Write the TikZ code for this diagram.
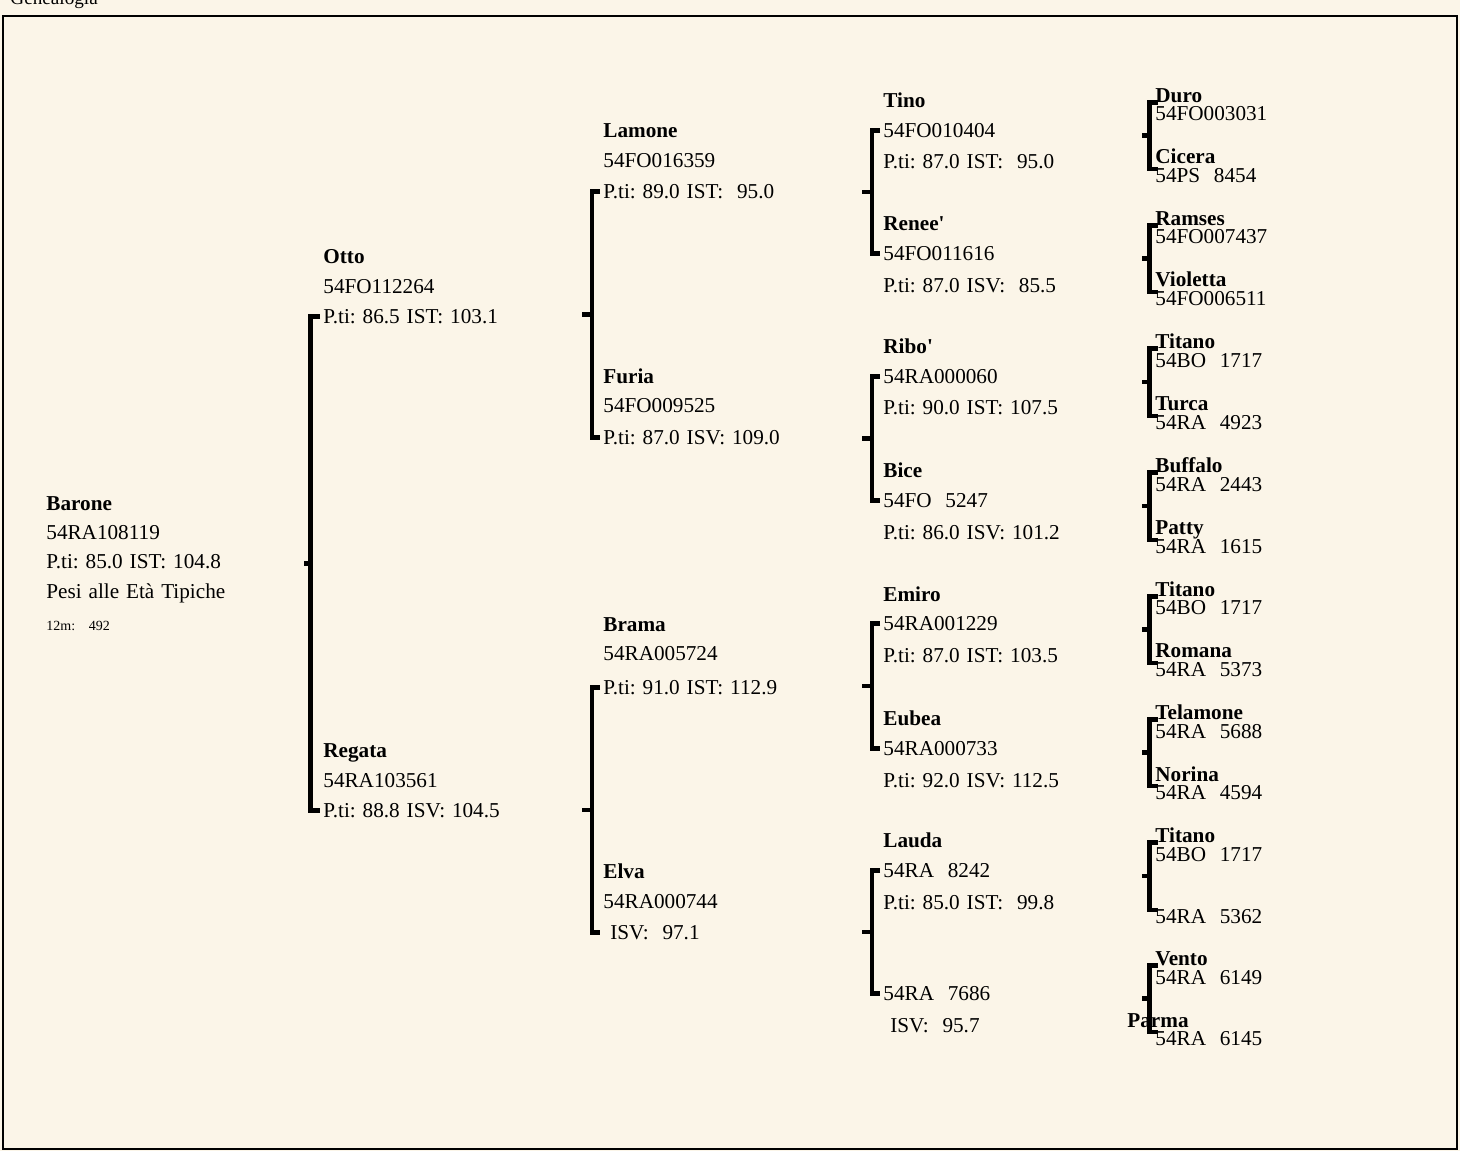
\documentclass[tikz,border=0pt]{standalone}
\usepackage{fontspec}
\setmainfont[WordSpace=1.3]{Liberation Serif}
\usetikzlibrary{calc}
\definecolor{paper}{RGB}{251,245,232}

\begin{document}
\begin{tikzpicture}[x=0.5pt,y=-0.5pt]
  \tikzstyle{every node}=[anchor=base west,inner xsep=1.5pt,inner ysep=0pt,text height=1.4ex,text depth=0pt,font=\fontsize{10.6}{12.7}\selectfont\frenchspacing]
  \tikzstyle{nm}=[font=\fontsize{10.6}{12.7}\selectfont\bfseries]
  \tikzstyle{brk}=[line width=2.2pt]
  \useasboundingbox (0,0) rectangle (1460,1151);
  \fill[paper] (0,0) rectangle (1460,1151);
  \draw[line width=1pt] (3,16) rectangle (1457,1149);
  \draw (7,4) node[font=\fontsize{9.6}{11}\selectfont] (title) {Genealogia};

  \draw (43,510) node[nm] (baroneN) {Barone};
  \draw (43,539) node (baroneI) {54RA108119};
  \draw (43,568) node (baroneS) {P.ti: 85.0 IST: 104.8};
  \draw (43,598) node (baroneP) {Pesi alle Età Tipiche};
  \draw (43,630) node[font=\fontsize{7}{8}\selectfont\frenchspacing] (baroneW) {12m:\ \ \ 492};

  \draw (320,263) node[nm] (ottoN) {Otto};
  \draw (320,293) node (ottoI) {54FO112264};
  \draw (320,323) node (ottoS) {P.ti: 86.5 IST: 103.1};
  \draw (320,757) node[nm] (regataN) {Regata};
  \draw (320,787) node (regataI) {54RA103561};
  \draw (320,817) node (regataS) {P.ti: 88.8 ISV: 104.5};

  \draw (600,137) node[nm] (lamoneN) {Lamone};
  \draw (600,167) node (lamoneI) {54FO016359};
  \draw (600,198) node (lamoneS) {P.ti: 89.0 IST:\ \ 95.0};
  \draw (600,383) node[nm] (furiaN) {Furia};
  \draw (600,412) node (furiaI) {54FO009525};
  \draw (600,444) node (furiaS) {P.ti: 87.0 ISV: 109.0};
  \draw (600,631) node[nm] (bramaN) {Brama};
  \draw (600,660) node (bramaI) {54RA005724};
  \draw (600,694) node (bramaS) {P.ti: 91.0 IST: 112.9};
  \draw (600,878) node[nm] (elvaN) {Elva};
  \draw (600,908) node (elvaI) {54RA000744};
  \draw (600,939) node (elvaS) {\ ISV:\ \ 97.1};

  \draw (880,107) node[nm] (tinoN) {Tino};
  \draw (880,137) node (tinoI) {54FO010404};
  \draw (880,168) node (tinoS) {P.ti: 87.0 IST:\ \ 95.0};
  \draw (880,230) node[nm] (reneeN) {Renee\textquotesingle};
  \draw (880,260) node (reneeI) {54FO011616};
  \draw (880,292) node (reneeS) {P.ti: 87.0 ISV:\ \ 85.5};
  \draw (880,353) node[nm] (riboN) {Ribo\textquotesingle};
  \draw (880,383) node (riboI) {54RA000060};
  \draw (880,414) node (riboS) {P.ti: 90.0 IST: 107.5};
  \draw (880,477) node[nm] (biceN) {Bice};
  \draw (880,507) node (biceI) {54FO\ \ 5247};
  \draw (880,539) node (biceS) {P.ti: 86.0 ISV: 101.2};
  \draw (880,601) node[nm] (emiroN) {Emiro};
  \draw (880,630) node (emiroI) {54RA001229};
  \draw (880,662) node (emiroS) {P.ti: 87.0 IST: 103.5};
  \draw (880,725) node[nm] (eubeaN) {Eubea};
  \draw (880,755) node (eubeaI) {54RA000733};
  \draw (880,787) node (eubeaS) {P.ti: 92.0 ISV: 112.5};
  \draw (880,847) node[nm] (laudaN) {Lauda};
  \draw (880,877) node (laudaI) {54RA\ \ 8242};
  \draw (880,909) node (laudaS) {P.ti: 85.0 IST:\ \ 99.8};
  \draw (880,1000) node (ra7686I) {54RA\ \ 7686};
  \draw (880,1032) node (ra7686S) {\ ISV:\ \ 95.7};

  \draw (1152,102) node[nm] (duroN) {Duro};
  \draw (1152,120) node (duroI) {54FO003031};
  \draw (1152,163) node[nm] (ciceraN) {Cicera};
  \draw (1152,182) node (ciceraI) {54PS\ \ 8454};
  \draw (1152,225) node[nm] (ramsesN) {Ramses};
  \draw (1152,243) node (ramsesI) {54FO007437};
  \draw (1152,286) node[nm] (violettaN) {Violetta};
  \draw (1152,305) node (violettaI) {54FO006511};
  \draw (1152,348) node[nm] (titanoAN) {Titano};
  \draw (1152,367) node (titanoAI) {54BO\ \ 1717};
  \draw (1152,410) node[nm] (turcaN) {Turca};
  \draw (1152,429) node (turcaI) {54RA\ \ 4923};
  \draw (1152,472) node[nm] (buffaloN) {Buffalo};
  \draw (1152,491) node (buffaloI) {54RA\ \ 2443};
  \draw (1152,534) node[nm] (pattyN) {Patty};
  \draw (1152,553) node (pattyI) {54RA\ \ 1615};
  \draw (1152,596) node[nm] (titanoBN) {Titano};
  \draw (1152,614) node (titanoBI) {54BO\ \ 1717};
  \draw (1152,657) node[nm] (romanaN) {Romana};
  \draw (1152,676) node (romanaI) {54RA\ \ 5373};
  \draw (1152,719) node[nm] (telamoneN) {Telamone};
  \draw (1152,738) node (telamoneI) {54RA\ \ 5688};
  \draw (1152,781) node[nm] (norinaN) {Norina};
  \draw (1152,799) node (norinaI) {54RA\ \ 4594};
  \draw (1152,842) node[nm] (titanoCN) {Titano};
  \draw (1152,861) node (titanoCI) {54BO\ \ 1717};
  \draw (1152,923) node (ra5362I) {54RA\ \ 5362};
  \draw (1152,965) node[nm] (ventoN) {Vento};
  \draw (1152,984) node (ventoI) {54RA\ \ 6149};
  \draw (1124,1027) node[nm] (parmaN) {Parma};
  \draw (1152,1045) node (parmaI) {54RA\ \ 6145};

  \draw[brk] (ottoS.west) -- ++(-9.5,0) |- (regataS.west);
  \draw[brk] ($(ottoS.west)!.5!(regataS.west)$) ++(-9.5,0) -- ++(-7,0);

  \draw[brk] (lamoneS.west) -- ++(-8,0) |- (furiaS.west);
  \draw[brk] ($(lamoneS.west)!.5!(furiaS.west)$) ++(-8,0) -- ++(-10,0);
  \draw[brk] (bramaS.west) -- ++(-8,0) |- (elvaS.west);
  \draw[brk] ($(bramaS.west)!.5!(elvaS.west)$) ++(-8,0) -- ++(-10,0);

  \draw[brk] (tinoI.west) -- ++(-8,0) |- (reneeI.west);
  \draw[brk] ($(tinoI.west)!.5!(reneeI.west)$) ++(-8,0) -- ++(-10,0);
  \draw[brk] (riboI.west) -- ++(-8,0) |- (biceI.west);
  \draw[brk] ($(riboI.west)!.5!(biceI.west)$) ++(-8,0) -- ++(-10,0);
  \draw[brk] (emiroI.west) -- ++(-8,0) |- (eubeaI.west);
  \draw[brk] ($(emiroI.west)!.5!(eubeaI.west)$) ++(-8,0) -- ++(-10,0);
  \draw[brk] (laudaI.west) -- ++(-8,0) |- (ra7686I.west);
  \draw[brk] ($(laudaI.west)!.5!(ra7686I.west)$) ++(-8,0) -- ++(-10,0);

  \draw[brk] ([xshift=3pt]duroN.south west) -- ++(-8.5,0) |- ([xshift=3pt]ciceraI.north west);
  \draw[brk] ($(duroN.south west)!.5!(ciceraI.north west)$) ++(-2.5,0) -- ++(-8,0);
  \draw[brk] ([xshift=3pt]ramsesN.south west) -- ++(-8.5,0) |- ([xshift=3pt]violettaI.north west);
  \draw[brk] ($(ramsesN.south west)!.5!(violettaI.north west)$) ++(-2.5,0) -- ++(-8,0);
  \draw[brk] ([xshift=3pt]titanoAN.south west) -- ++(-8.5,0) |- ([xshift=3pt]turcaI.north west);
  \draw[brk] ($(titanoAN.south west)!.5!(turcaI.north west)$) ++(-2.5,0) -- ++(-8,0);
  \draw[brk] ([xshift=3pt]buffaloN.south west) -- ++(-8.5,0) |- ([xshift=3pt]pattyI.north west);
  \draw[brk] ($(buffaloN.south west)!.5!(pattyI.north west)$) ++(-2.5,0) -- ++(-8,0);
  \draw[brk] ([xshift=3pt]titanoBN.south west) -- ++(-8.5,0) |- ([xshift=3pt]romanaI.north west);
  \draw[brk] ($(titanoBN.south west)!.5!(romanaI.north west)$) ++(-2.5,0) -- ++(-8,0);
  \draw[brk] ([xshift=3pt]telamoneN.south west) -- ++(-8.5,0) |- ([xshift=3pt]norinaI.north west);
  \draw[brk] ($(telamoneN.south west)!.5!(norinaI.north west)$) ++(-2.5,0) -- ++(-8,0);
  \draw[brk] ([xshift=3pt]titanoCN.south west) -- ++(-8.5,0) |- ([xshift=3pt]ra5362I.north west);
  \draw[brk] ($(titanoCN.south west)!.5!(ra5362I.north west)$) ++(-2.5,0) -- ++(-8,0);
  \draw[brk] ([xshift=3pt]ventoN.south west) -- ++(-8.5,0) |- ([xshift=3pt]parmaI.north west);
  \draw[brk] ($(ventoN.south west)!.5!(parmaI.north west)$) ++(-2.5,0) -- ++(-8,0);
\end{tikzpicture}
\end{document}
